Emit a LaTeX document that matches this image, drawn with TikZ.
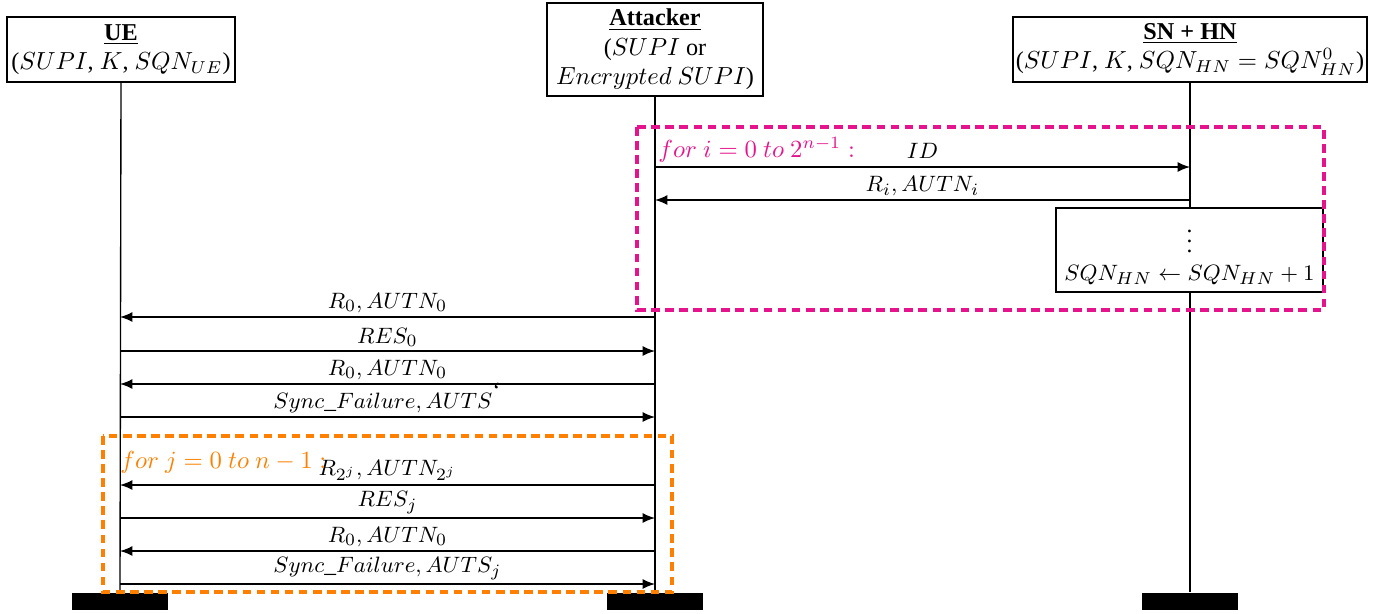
\documentclass[tikz,border=0pt]{standalone}
\usepackage{fontspec}
\setmainfont{Liberation Serif}
\usetikzlibrary{arrows.meta}
\definecolor{loopPink}{RGB}{230,20,140}
\definecolor{loopOrange}{RGB}{255,128,0}
\begin{document}
\begin{tikzpicture}[x=0.405pt,y=-0.405pt,
  actor/.style={draw,line width=0.5pt,align=center,inner sep=1pt,font=\fontsize{9.8}{12}\selectfont},
  life/.style={line width=0.55pt,draw=black},
  msg/.style={line width=0.55pt,-{Latex[length=5pt,width=4pt]}},
  lbl/.style={above,inner sep=1.5pt,font=\fontsize{9.5}{11}\selectfont},
  bar/.style={fill=black,minimum width=38.9pt,minimum height=6.9pt,inner sep=0pt},
  loopbox/.style={line width=1.3pt,dash pattern=on 3.5pt off 2.2pt}]
\useasboundingbox (0,0) rectangle (1379,614);

% actors
\node[actor,minimum width=92.3pt,minimum height=26.3pt] (ue) at (121,49.5)
  {\underline{\textbf{UE}}\\($SUPI$, $K$, $SQN_{UE}$)};
\node[actor,minimum width=87.5pt,minimum height=37.7pt] (att) at (655,49.5)
  {\underline{\textbf{Attacker}}\\($SUPI$ or\\ $Encrypted\ SUPI$)};
\node[actor,minimum width=143.4pt,minimum height=26.3pt] (sn) at (1190,49.5)
  {\underline{\textbf{SN + HN}}\\($SUPI$, $K$, $SQN_{HN}=SQN^{0}_{HN}$)};

% lifeline ends (bars)
\node[bar] (ueend) at (120,601.5) {};
\node[bar] (attend) at (655,601.5) {};
\node[bar] (snend) at (1190,601.5) {};

\draw[life] (ue.south) -- (ueend.north);
\draw[life] (att.south) -- (attend.north);
\draw[life] (sn.south) -- (snend.north);

% message coordinates
\foreach \n/\y in {a/167,b/200,c/317,d/351,e/384,f/417,g/485,h/518,i/551,j/584}{
  \coordinate (ue\n) at (120,\y);
  \coordinate (att\n) at (655,\y);
  \coordinate (sn\n) at (1190,\y);
}

% first loop
\draw[msg] (atta) -- node[lbl,inner sep=3pt] {$ID$} (sna);
\draw[msg] (snb) -- node[lbl] {$R_i, AUTN_i$} (attb);
\node[draw,fill=white,line width=0.5pt,minimum width=108.1pt,minimum height=34pt,inner sep=1pt,align=center,font=\fontsize{9.5}{11.5}\selectfont] (upd) at (1189.5,250)
  {$\vdots$\\ $SQN_{HN} \leftarrow SQN_{HN}+1$};

% exchange
\draw[msg] (attc) -- node[lbl] {$R_0, AUTN_0$} (uec);
\draw[msg] (ued) -- node[lbl] {$RES_0$} (attd);
\draw[msg] (atte) -- node[lbl] {$R_0, AUTN_0$} (uee);
\draw[msg] (uef) -- node[lbl] {$Sync\_Failure, AUTS^{\mbox{\textquoteleft}}$} (attf);

% second loop
\draw[msg] (attg) -- node[lbl] {$R_{2^j}, AUTN_{2^j}$} (ueg);
\draw[msg] (ueh) -- node[lbl] {$RES_j$} (atth);
\draw[msg] (atti) -- node[lbl] {$R_0, AUTN_0$} (uei);
\draw[msg] (uej) -- node[lbl] {$Sync\_Failure, AUTS_j$} (attj);

% loop frames
\draw[loopbox,draw=loopPink] (637,127) rectangle (1324,310);
\node[anchor=west,text=loopPink,inner sep=0pt] (loopi) at (658,150) {$for\ i=0\ to\ 2^{n-1}:$};
\draw[loopbox,draw=loopOrange] (103,436) rectangle (672,592);
\node[anchor=west,text=loopOrange,inner sep=0pt] (loopj) at (120,462) {$for\ j=0\ to\ n-1:$};
\end{tikzpicture}
\end{document}
